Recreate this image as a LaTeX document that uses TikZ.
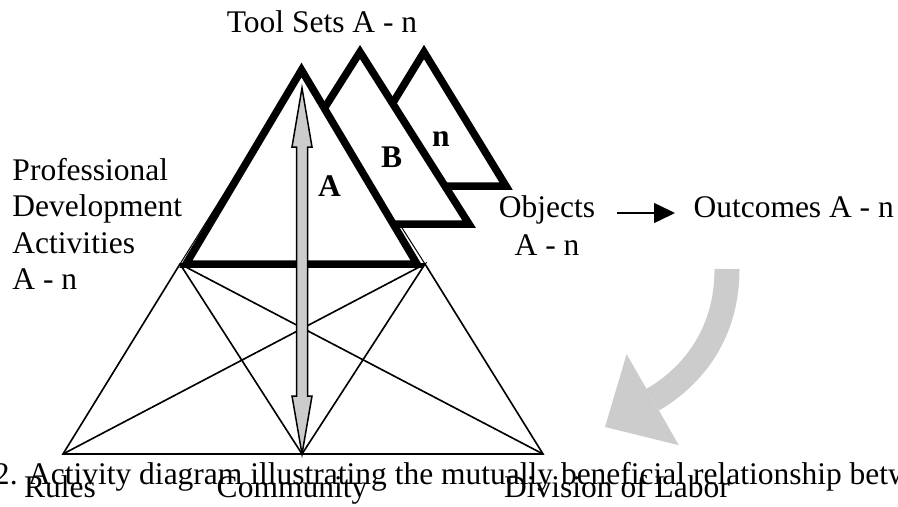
\documentclass[tikz,border=0pt]{standalone}
\usepackage{fontspec}
\setmainfont{Liberation Serif}
\usepackage{tikz}
\usetikzlibrary{arrows.meta, calc}
\definecolor{arrowgray}{RGB}{204, 204, 204}

\begin{document}
\begin{tikzpicture}[x=0.4pt, y=-0.4pt,
  lbl/.style={inner sep=0pt, font=\fontsize{12.6}{14.6}\selectfont},
  tag/.style={inner sep=0pt, font=\bfseries\fontsize{12.6}{14.6}\selectfont},
  toolset/.style={draw, fill=white, line width=3pt},
  web/.style={line width=0.65pt}]
  \useasboundingbox (0,0) rectangle (898,506);
  \clip (0,0) rectangle (898,506);
  % Activity web
  \coordinate (pl) at (180,264);
  \coordinate (pr) at (425,264);
  \coordinate (rl) at (63,454);
  \coordinate (cm) at (302,454);
  \coordinate (dl) at (543,454);
  \coordinate (aTop) at (301.5,70);
  \draw[web] (pl) -- (pr) -- (dl) -- (rl) -- cycle;
  \draw[web] (pl) -- (cm) -- (pr) -- (rl);
  \draw[web] (pl) -- (dl);
  \draw[line width=0.4pt] (pl) -- (aTop) -- (pr);
  % Tool set triangles, back to front
  \draw[toolset] (424,52) -- (506,186) -- (342,186) -- cycle;
  \draw[toolset] (360,52) -- (469,224) -- (251,224) -- cycle;
  \draw[toolset] (aTop) -- (417,264) -- (186,264) -- cycle;
  \node[tag, anchor=base] (setN) at (441,147) {n};
  \node[tag, anchor=base] (setB) at (391.5,167) {B};
  \node[tag, anchor=base] (setA) at (329.5,196) {A};
  % Double arrow
  \coordinate (upT) at (302,88);
  \draw[fill=arrowgray, line width=0.6pt] (upT) -- ++(10,59) -- ++(-4.5,0)
    -- ($(cm)+(5.5,-58)$) -- ++(4.5,0) -- (cm) -- ++(-10,-58) -- ++(4.5,0)
    -- ($(upT)+(-5.5,59)$) -- ++(-4.5,0) -- cycle;
  % Labels
  \node[lbl, anchor=base] (tools) at (322,33) {Tool Sets A - n};
  \node[lbl, anchor=north west, align=left] (pda) at (12,157.5)
    {Professional\\Development\\Activities\\A - n};
  \node[lbl, anchor=north, align=center, font=\fontsize{12.6}{15.2}\selectfont] (obj) at (547,195.5)
    {Objects\\A - n};
  \node[lbl, anchor=base west] (out) at (693,217) {Outcomes A - n};
  \coordinate (obA) at (617,213);
  \draw[line width=0.6pt, -{Triangle[length=8.4pt, width=8pt]}, shorten >=7.2pt]
    (obA) -- (obA -| out.west);
  % Feedback arrow
  \coordinate (cvS) at (727,269);
  \coordinate (cvE) at (605,427);
  \draw[arrowgray, line width=10pt, -{Triangle[length=22pt, width=42pt, line width=0pt]}]
    (cvS) .. controls (727,345) and (680,384) .. (cvE);
  % Bottom labels
  \node[lbl, anchor=base west] (cap) at (-6.5,484)
    {2. Activity diagram illustrating the mutually beneficial relationship betw};
  \node[lbl, anchor=base] (rules) at (60,497) {Rules};
  \node[lbl, anchor=base] (comm) at (292,497) {Community};
  \node[lbl, anchor=base] (divl) at (617,497) {Division of Labor};
\end{tikzpicture}
\end{document}
